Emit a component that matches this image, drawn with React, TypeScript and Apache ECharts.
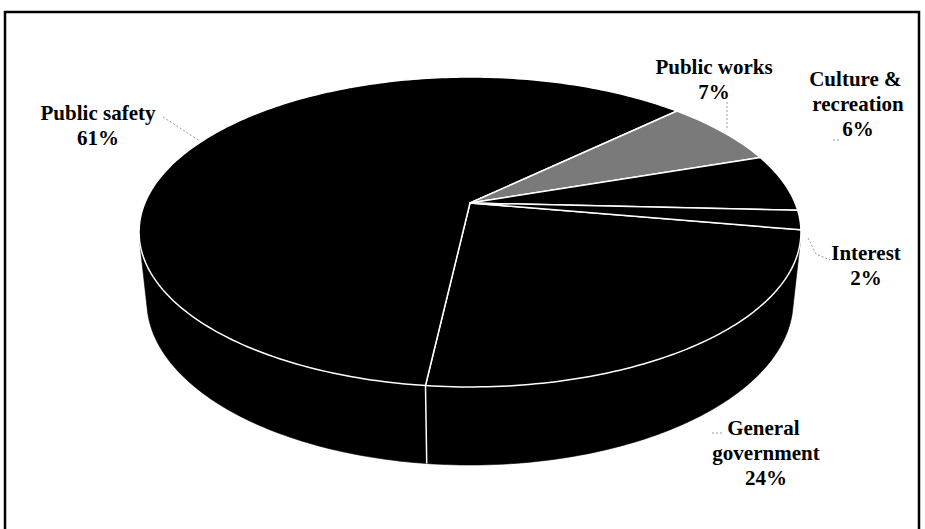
import React, { useEffect, useRef } from "react";
import * as echarts from "echarts";

// ---- data ----
const categories = ["General government", "Public safety", "Public works", "Culture & recreation", "Interest"];
const values = [24, 61, 7, 6, 2];
const sliceColors = ["#000000", "#000000", "#7a7a7a", "#000000", "#000000"];

// label placement (center x, top y, wrap width)
const labelLayout = [
  { x: 766, y: 415, w: 125 },
  { x: 98, y: 100, w: 200 },
  { x: 714, y: 54, w: 200 },
  { x: 858, y: 66, w: 100 },
  { x: 866, y: 240, w: 120 },
];
const leaderLines = [
  [[712, 433], [724, 433]],
  [[163, 117], [200, 141]],
  [[727, 102], [727, 130]],
  [[833, 140], [840, 140]],
  [[808, 238], [816, 254], [830, 260]],
];

// ---- 3D projection settings ----
const START_DEG = 10;
const CX = 470, CY = 203, F = 1544, DIST = 4.749, SIN_T = 0.46, COS_T = 0.888, DEPTH = 0.241;

function project(deg: number, h: number): number[] {
  const a = (deg * Math.PI) / 180;
  const x = Math.cos(a), z = Math.sin(a);
  const d = DIST - z * COS_T - h * SIN_T;
  return [CX + (F * x) / d, CY + (F * (z * SIN_T - h * COS_T)) / d];
}

export default function App() {
  const ref = useRef<HTMLDivElement>(null);
  useEffect(() => {
    if (!ref.current) return;
    const chart = echarts.init(ref.current, undefined, { renderer: "svg" });
    const total = values.reduce((a, b) => a + b, 0);
    const thr = 1 / (COS_T * DIST);
    const visLo = (Math.asin(thr) * 180) / Math.PI;
    const visHi = 180 - visLo;

    const renderItem = (params: any, api: any) => {
      const i = params.dataIndex;
      let a0 = START_DEG;
      for (let k = 0; k < i; k++) a0 += (values[k] / total) * 360;
      const a1 = a0 + (api.value(0) / total) * 360;
      const color = sliceColors[i];
      const children: any[] = [];
      const n = Math.max(2, Math.ceil(a1 - a0));
      const top: number[][] = [[CX, CY]];
      for (let j = 0; j <= n; j++) top.push(project(a0 + ((a1 - a0) * j) / n, 0));
      children.push({
        type: "polygon",
        shape: { points: top },
        style: { fill: color, stroke: "#ffffff", lineWidth: 1.5, lineJoin: "round" },
        z2: 10,
      });
      // visible outer wall (front-facing range), possibly shifted by 360
      [0, 360, -360].forEach((off) => {
        const lo = Math.max(a0, visLo + off);
        const hi = Math.min(a1, visHi + off);
        if (hi <= lo) return;
        const m = Math.max(2, Math.ceil(hi - lo));
        const upper: number[][] = [];
        const lower: number[][] = [];
        for (let j = 0; j <= m; j++) {
          const p = lo + ((hi - lo) * j) / m;
          upper.push(project(p, 0));
          lower.push(project(p, -DEPTH));
        }
        children.push({
          type: "polygon",
          shape: { points: upper.concat(lower.reverse()) },
          style: { fill: color, stroke: color, lineWidth: 0.6 },
          z2: 2,
        });
      });
      if (Math.sin((a0 * Math.PI) / 180) > thr) {
        const t = project(a0, 0), b = project(a0, -DEPTH);
        children.push({
          type: "line",
          shape: { x1: t[0], y1: t[1], x2: b[0], y2: b[1] },
          style: { stroke: "#ffffff", lineWidth: 1.5 },
          z2: 6,
        });
      }
      return { type: "group", children };
    };

    const graphics: any[] = [
      {
        type: "rect",
        shape: { x: 5, y: 12, width: 914, height: 530 },
        style: { fill: "none", stroke: "#000", lineWidth: 2.5 },
        silent: true,
      },
    ];
    categories.forEach((name, i) => {
      const L = labelLayout[i];
      graphics.push({
        type: "text",
        x: L.x,
        y: L.y,
        style: {
          text: `${name}\n${values[i]}%`,
          width: L.w,
          overflow: "break",
          font: 'bold 21px "Liberation Serif"',
          fill: "#000",
          lineHeight: 25,
          align: "center",
          textAlign: "center",
          verticalAlign: "top",
          textVerticalAlign: "top",
        },
        z: 20,
      });
    });
    leaderLines.forEach((pts) => {
      graphics.push({
        type: "polyline",
        shape: { points: pts },
        style: { stroke: "#9a9a9a", lineWidth: 1, lineDash: [2, 2], fill: "none" },
        z: 15,
      });
    });

    chart.setOption({
      animation: false,
      backgroundColor: "#ffffff",
      series: [
        {
          type: "custom",
          coordinateSystem: "none",
          renderItem,
          silent: true,
          data: values.map((v, i) => ({ name: categories[i], value: v })),
        },
      ],
      graphic: graphics,
    });
    return () => chart.dispose();
  }, []);
  return <div ref={ref} style={{ position: "fixed", left: 0, top: 0, width: 925, height: 529 }} />;
}
